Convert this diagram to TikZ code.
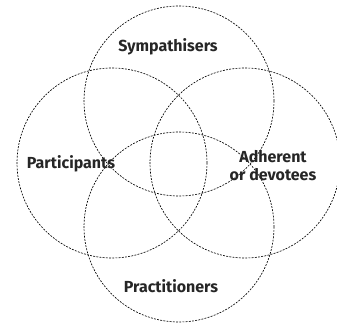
\documentclass[tikz,border=0pt]{standalone}
\usepackage{fontspec}
\setsansfont{Fira Sans}
\usetikzlibrary{positioning}

\begin{document}
\begin{tikzpicture}[x=1pt, y=1pt, font=\sffamily\bfseries\fontsize{16}{18}\selectfont]
        \useasboundingbox (0,0) rectangle (337,324);
        \tikzset{ring/.style={draw, circle, dash pattern=on 1.9pt off 1.3pt, line width=0.65pt, minimum size=190pt, inner sep=0pt}}
        \foreach \x/\y/\name in {179/223/sym,112/161/par,245/161/adh,179/97/pra}{\node[ring] (\name) at (\x,\y) {};}
        \node[text=black!85] (symlabel) at (168,277) {Sympathisers};
        \node[text=black!85] (parlabel) at (71,160) {Participants};
        \node[text=black!85, align=center, inner sep=0pt] (adhlabel) at (273,158) {Adherent\\or devotees};
        \node[text=black!85] (pralabel) at (171,38) {Practitioners};
\end{tikzpicture}
\end{document}
